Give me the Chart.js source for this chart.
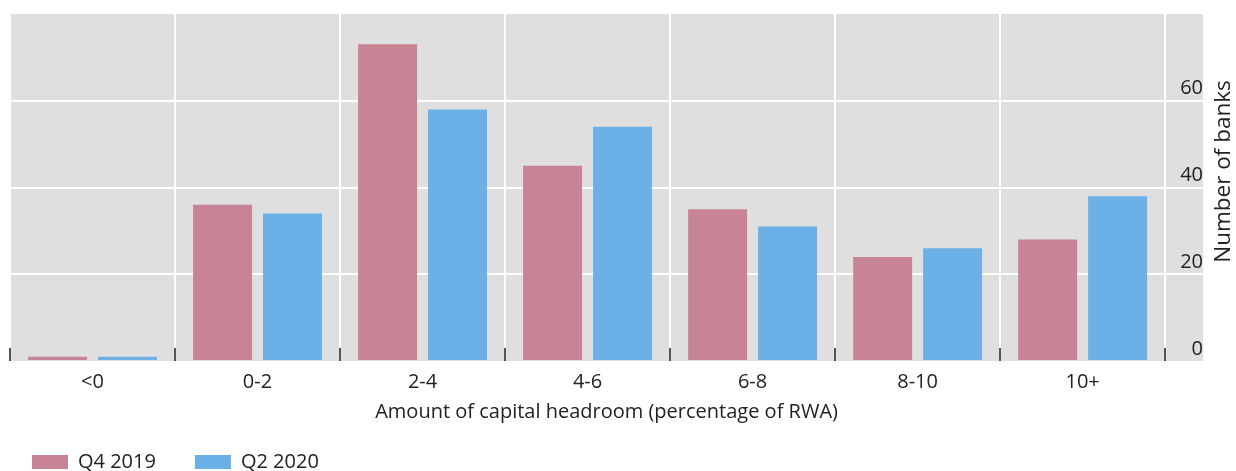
<!DOCTYPE html>
<html>
<head>
<meta charset="utf-8">
<script src="https://cdn.jsdelivr.net/npm/chart.js@4"></script>
<style>
  html, body { margin: 0; padding: 0; background: #ffffff; }
  #wrap { width: 1236px; height: 471px; position: relative; }
</style>
</head>
<body>
<div id="wrap"><canvas id="c"></canvas></div>
<script>
const CATEGORIES = ['<0', '0-2', '2-4', '4-6', '6-8', '8-10', '10+'];
const SERIES_NAMES = ['Q4 2019', 'Q2 2020'];
const Q4_2019 = [1, 36, 73, 45, 35, 24, 28];
const Q2_2020 = [1, 34, 58, 54, 31, 26, 38];
const Y_TICKS = [0, 20, 40, 60];
const X_TITLE = 'Amount of capital headroom (percentage of RWA)';
const Y_TITLE = 'Number of banks';

const PINK = '#C88494';
const BLUE = '#6BB0E6';
const PANEL = '#DFDFDF';
const TEXT = '#222222';
const FONT = { family: '"Open Sans", "Noto Sans", sans-serif', size: 20 };
const Y_TITLE_FONT = { family: '"Open Sans", "Noto Sans", sans-serif', size: 22.5 };

const X_TITLE_SHIFT = 19;
const Y_TITLE_SHIFT = -16;
const Y_TITLE_GAP = 21;
const LEGEND_PAD = 39;
const LEGEND_SHIFT = 32 - 10 - LEGEND_PAD;

const panelPlugin = {
  id: 'panelBg',
  beforeDraw(chart) {
    const { ctx, chartArea } = chart;
    const ext = chart.scales.y.options.grid.tickLength;
    ctx.save();
    ctx.fillStyle = PANEL;
    ctx.fillRect(chartArea.left, chartArea.top, chartArea.right + ext - chartArea.left, chartArea.bottom - chartArea.top);
    ctx.restore();
  }
};

const tweakPlugin = {
  id: 'tweaks',
  afterLayout(chart) {
    if (chart.legend) chart.legend.left += LEGEND_SHIFT;
  },
  beforeDraw(chart) {
    const xs = chart.scales.x, ys = chart.scales.y;
    if (!xs._tw) {
      const orig = xs.drawTitle;
      xs.drawTitle = function () {
        const c = this.ctx;
        c.save();
        c.translate(X_TITLE_SHIFT, 0);
        orig.apply(this, arguments);
        c.restore();
      };
      xs._tw = true;
    }
    if (!ys._tw) {
      const orig = ys.drawTitle;
      ys.drawTitle = function () {
        const c = this.ctx;
        const t = this.options.title;
        const lh = Chart.helpers.toFont(t.font).lineHeight;
        const pad = Chart.helpers.toPadding(t.padding);
        const cx = this.right - (lh / 2 + pad.top);
        const cy = (this.top + this.bottom) / 2;
        c.save();
        c.translate(this.right + Y_TITLE_GAP, cy + Y_TITLE_SHIFT);
        c.rotate(Math.PI);
        c.translate(-cx, -cy);
        orig.apply(this, arguments);
        c.restore();
      };
      ys._tw = true;
    }
  }
};

new Chart(document.getElementById('c'), {
  type: 'bar',
  data: {
    labels: CATEGORIES,
    datasets: [
      { label: SERIES_NAMES[0], data: Q4_2019, backgroundColor: PINK, borderWidth: 0 },
      { label: SERIES_NAMES[1], data: Q2_2020, backgroundColor: BLUE, borderWidth: 0 }
    ]
  },
  options: {
    responsive: true,
    maintainAspectRatio: false,
    animation: false,
    datasets: { bar: { categoryPercentage: 0.848, barPercentage: 0.843 } },
    layout: { padding: { left: 10, right: 33, top: 14, bottom: -11 } },
    plugins: {
      tooltip: { enabled: false },
      legend: {
        position: 'bottom',
        align: 'start',
        labels: { font: FONT, color: TEXT, boxWidth: 36, boxHeight: 14, padding: LEGEND_PAD }
      }
    },
    scales: {
      x: {
        grid: { color: '#ffffff', lineWidth: 2, offset: true, drawTicks: true, tickLength: -13, tickColor: '#555555', tickWidth: 2 },
        border: { display: false },
        ticks: { font: FONT, color: TEXT, padding: 22, maxRotation: 0 },
        title: { display: true, text: X_TITLE, font: FONT, color: TEXT, padding: { top: -16, bottom: -11 } }
      },
      y: {
        position: 'right',
        min: 0,
        max: 80,
        afterBuildTicks: (s) => { s.ticks = Y_TICKS.map(v => ({ value: v })); },
        grid: {
          color: (c) => (c.tick && c.tick.value === 0) ? 'rgba(0,0,0,0)' : '#ffffff',
          lineWidth: 2,
          drawTicks: true,
          tickLength: 38
        },
        border: { display: false },
        ticks: { font: FONT, color: TEXT, padding: -23, crossAlign: 'far', labelOffset: -12 },
        title: { display: true, text: Y_TITLE, font: Y_TITLE_FONT, color: TEXT, padding: { top: 0, bottom: -4 } }
      }
    }
  },
  plugins: [panelPlugin, tweakPlugin]
});
</script>
</body>
</html>
